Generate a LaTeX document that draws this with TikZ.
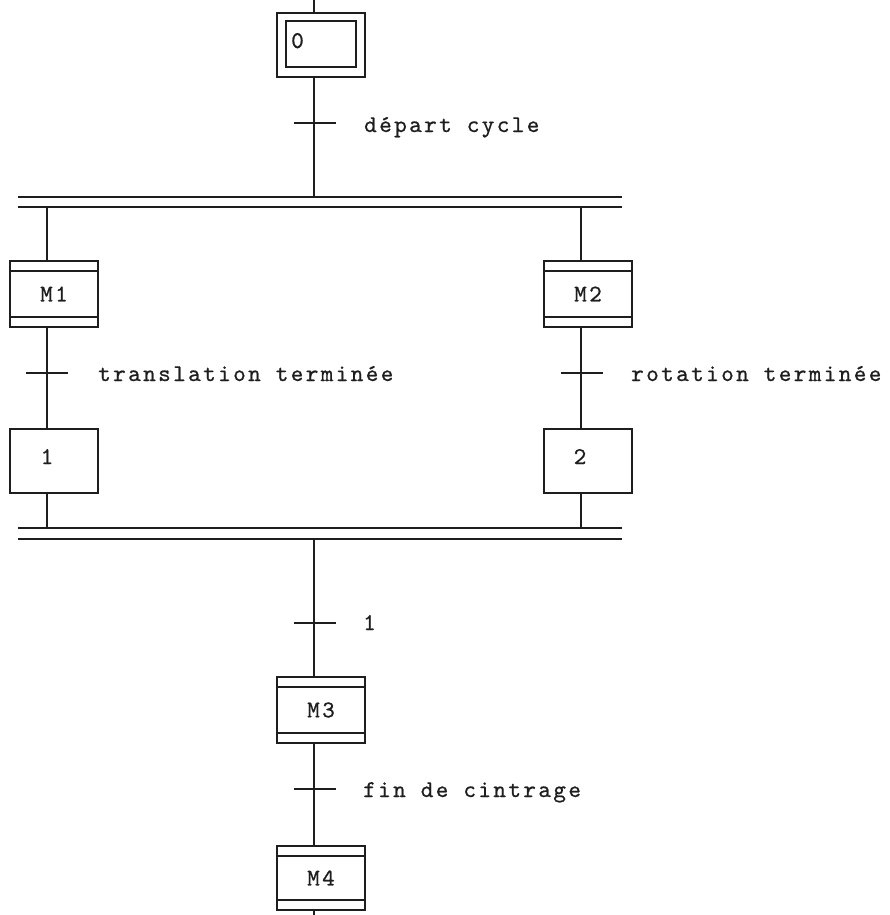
\documentclass[tikz,border=0pt]{standalone}
\usepackage{fontspec}
\setmonofont{lmmono10-regular.otf}[LetterSpace=10, FakeBold=0.7]
\definecolor{ink}{HTML}{1E1E1E}
\begin{document}
\begin{tikzpicture}[x=1pt,y=-1pt,
  wire/.style={draw=ink, line width=1.5pt},
  stepbox/.style={draw=ink, line width=1.5pt, minimum width=88pt,
    minimum height=64pt, inner sep=0pt, anchor=center,
    font=\ttfamily\fontsize{24}{26}\selectfont, text=ink},
  actbox/.style={stepbox, minimum height=66pt,
    path picture={
      \draw[ink, line width=1.5pt]
        ([yshift=-10pt]path picture bounding box.north west) --
        ([yshift=-10pt]path picture bounding box.north east)
        ([yshift=10pt]path picture bounding box.south west) --
        ([yshift=10pt]path picture bounding box.south east);
    }},
  txt/.style={inner sep=0pt, anchor=base west, text=ink,
    font=\ttfamily\fontsize{24}{26}\selectfont},
  lbl/.style={txt, anchor=base}
]
\fill[white] (0,0) rectangle (889,915);
\useasboundingbox (0,0) rectangle (889,915);

% column positions of the sequence lines
\coordinate (colA) at (314,0);
\coordinate (colL) at (47,0);
\coordinate (colR) at (581,0);
\coordinate (colEnd) at (314,915);

% initial step
\node[stepbox] (s0) at (321,45) {};
\node[stepbox, minimum width=70pt, minimum height=46pt] (s0i) at (321,44) {};
\node[lbl] (s0l) at (297.5,48) {0};

% parallel branches: action steps and plain steps
\node[actbox] (m1) at (54,294) {M1};
\node[actbox] (m2) at (588,294) {M2};
\node[stepbox] (n1) at (54,461) {};
\node[lbl] (n1l) at (47,464) {1};
\node[stepbox] (n2) at (588,461) {};
\node[lbl] (n2l) at (580,464) {2};

% sequence after the synchronisation
\node[actbox] (m3) at (321,710) {M3};
\node[actbox, minimum height=64pt] (m4) at (321,878) {M4};

% double bars (divergence / convergence in AND)
\coordinate (dA1) at (18,197);  \coordinate (dB1) at (622,197);
\coordinate (dA2) at (18,207);  \coordinate (dB2) at (622,207);
\coordinate (cA1) at (18,528);  \coordinate (cB1) at (622,528);
\coordinate (cA2) at (18,539);  \coordinate (cB2) at (622,539);
\draw[wire] (dA1) -- (dB1) (dA2) -- (dB2);
\draw[wire] (cA1) -- (cB1) (cA2) -- (cB2);

% links
\draw[wire] (colA) -- (colA |- s0.north);
\draw[wire] (colA |- s0.south) -- (colA |- dA1);
\draw[wire] (colL |- dA2) -- (colL |- m1.north);
\draw[wire] (colR |- dA2) -- (colR |- m2.north);
\draw[wire] (colL |- m1.south) -- (colL |- n1.north);
\draw[wire] (colR |- m2.south) -- (colR |- n2.north);
\draw[wire] (colL |- n1.south) -- (colL |- cA1);
\draw[wire] (colR |- n2.south) -- (colR |- cA1);
\draw[wire] (colA |- cA2) -- (colA |- m3.north);
\draw[wire] (colA |- m3.south) -- (colA |- m4.north);
\draw[wire] (colA |- m4.south) -- (colEnd);

% transitions
\coordinate (t0) at (315,123);
\coordinate (t1) at (47,373);
\coordinate (t2) at (582,373);
\coordinate (t3) at (315,623);
\coordinate (t4) at (315,789);
\foreach \t in {t0,t1,t2,t3,t4}
  \draw[wire] ([xshift=-21pt]\t) -- ([xshift=21pt]\t);

% receptivities
\node[txt] (r0) at (364,132) {départ cycle};
\node[txt] (r1) at (98,381) {translation terminée};
\node[txt] (r2) at (631,381) {rotation terminée};
\node[txt] (r3) at (363,630) {1};
\node[txt] (r4) at (363,797) {fin de cintrage};
\end{tikzpicture}
\end{document}
